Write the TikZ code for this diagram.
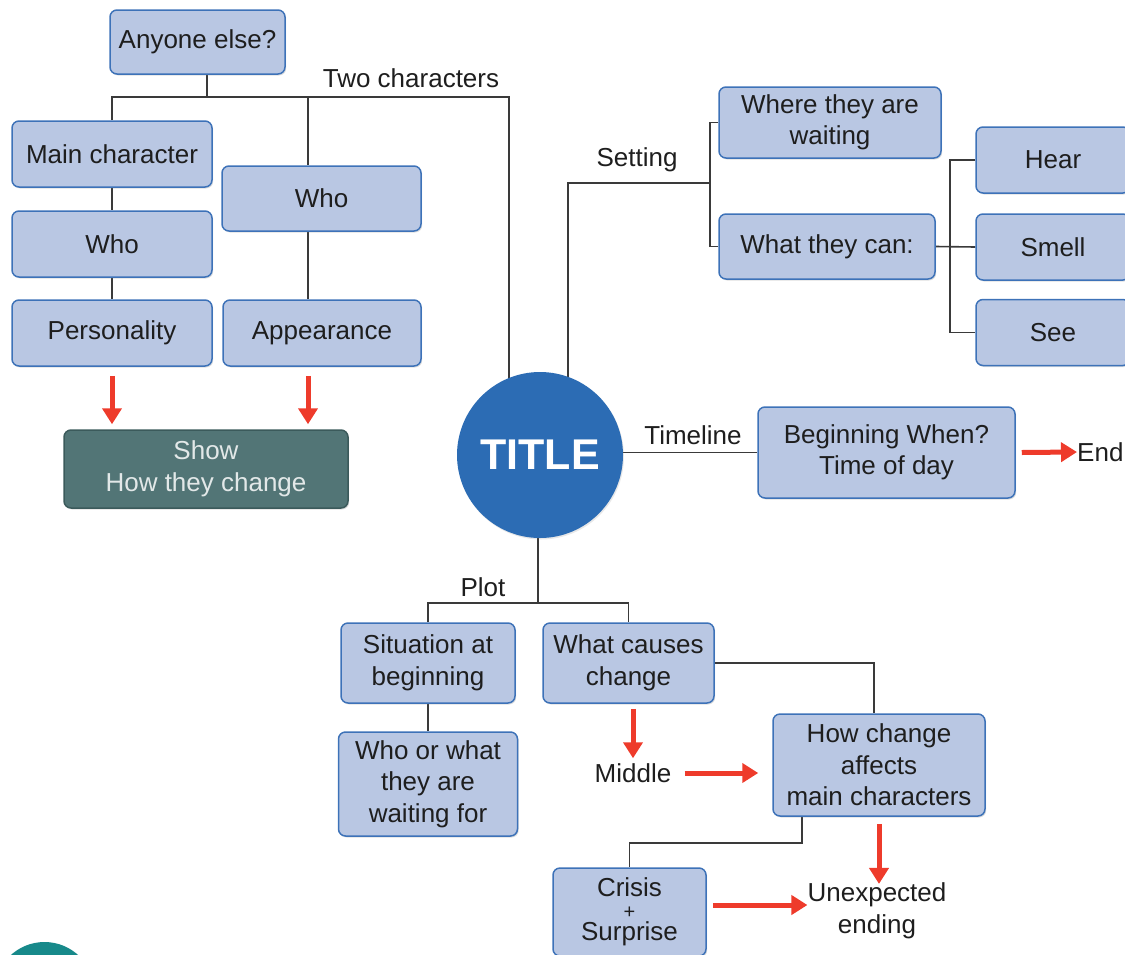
\documentclass[tikz,border=0pt]{standalone}
\usepackage{fontspec}
\setmainfont{Liberation Sans}
\usetikzlibrary{arrows.meta,calc,backgrounds,shadows}
\definecolor{boxfill}{HTML}{B9C7E3}
\definecolor{boxline}{HTML}{3D72B8}
\definecolor{txt}{HTML}{1E1E1E}
\definecolor{showfill}{HTML}{527576}
\definecolor{showline}{HTML}{3B5A5B}
\definecolor{showtxt}{HTML}{E2E8E8}
\definecolor{titleblue}{HTML}{2C6CB4}
\definecolor{arrowred}{HTML}{EE3B2B}
\definecolor{tealdot}{HTML}{17898A}
\definecolor{linegray}{HTML}{3A3A3A}
\newcommand\fsz{\fontsize{26}{31.5}\selectfont}
\begin{document}
\begin{tikzpicture}[x=1pt,y=-1pt,
  box/.style={draw=boxline, fill=boxfill, line width=1.5pt, rounded corners=7pt,
    align=center, text=txt, font=\fsz, inner sep=0pt,
    drop shadow={opacity=0.25, shadow xshift=1.2pt, shadow yshift=-1.5pt}},
  showbox/.style={box, draw=showline, fill=showfill, text=showtxt},
  lbl/.style={font=\fsz, text=txt, inner sep=0pt, align=center},
  conn/.style={draw=linegray, line width=1.6pt},
  redarr/.style={draw=arrowred, line width=5pt, -{Triangle[width=19pt,length=16pt]}}]
\clip (0,0) rectangle (1125,954);
\fill[tealdot] (44.5,992) circle (50pt);

% nodes
\node[box, minimum width=175pt, minimum height=64pt] (anyone) at (197.5,42) {Anyone else?};
\node[box, minimum width=200pt, minimum height=66pt] (mainc) at (112,154) {Main character};
\node[box, minimum width=200pt, minimum height=66pt] (who1) at (112,244) {Who};
\node[box, minimum width=200pt, minimum height=66pt] (pers) at (112,333) {Personality};
\node[box, minimum width=199pt, minimum height=65pt] (who2) at (321.5,198.5) {Who};
\node[box, minimum width=198pt, minimum height=66pt] (appear) at (322,333) {Appearance};
\node[showbox, minimum width=284pt, minimum height=78pt] (show) at (206,469) {Show\\How they change};
\node[circle, fill=titleblue, minimum size=166pt, inner sep=0pt, text=white,
  font=\fontsize{43}{43}\selectfont\bfseries,
  drop shadow={opacity=0.18, shadow xshift=1pt, shadow yshift=-1.5pt}] (title) at (540,455) {TITLE};
\node[box, minimum width=222pt, minimum height=71pt] (where) at (830,122.5) {Where they are\\waiting};
\node[box, minimum width=216pt, minimum height=65pt] (whatcan) at (827,246.5) {What they can:};
\node[box, minimum width=154pt, minimum height=66pt] (hear) at (1053,160) {Hear};
\node[box, minimum width=154pt, minimum height=66pt] (smell) at (1053,247) {Smell};
\node[box, minimum width=154pt, minimum height=66pt] (see) at (1053,332.5) {See};
\node[box, minimum width=257pt, minimum height=91pt] (begin) at (886.5,452.5) {Beginning When?\\Time of day};
\node[lbl, anchor=west] (endl) at (1077,452) {End};
\node[box, minimum width=174pt, minimum height=80pt] (situation) at (428,663) {Situation at\\beginning};
\node[box, minimum width=179pt, minimum height=104pt] (whowhat) at (428,784) {Who or what\\they are\\waiting for};
\node[box, minimum width=171pt, minimum height=80pt] (causes) at (628.5,663) {What causes\\change};
\node[box, minimum width=212pt, minimum height=102pt] (howchange) at (879,765) {How change\\affects\\main characters};
\node[box, minimum width=153pt, minimum height=88pt] (crisis) at (629.5,912) {Crisis\\[-10pt]{\fontsize{20}{20}\selectfont +}\\[-9pt]Surprise};
\node[lbl] (middle) at (633,773) {Middle};
\node[lbl] (unexp) at (877,911) {Unexpected\\ending};
\node[lbl] (twoc) at (411,78) {Two characters};
\node[lbl] (settinglbl) at (637,160) {Setting};
\node[lbl] (timelinelbl) at (693,435) {Timeline};
\node[lbl] (plotlbl) at (483,587) {Plot};

% connectors
\begin{scope}[on background layer]
\coordinate (j1) at (207,97);
\coordinate (tc) at (509,97);
\coordinate (c2) at (308,97);
\draw[conn] (j1 |- anyone.south) -- (j1);
\draw[conn] (mainc.north) |- (tc) -- (tc |- title.center);
\draw[conn] (c2) -- (c2 |- who2.north);
\draw[conn] (c2 |- who2.south) -- (c2 |- appear.north);
\draw[conn] (mainc.south) -- (who1.north);
\draw[conn] (who1.south) -- (pers.north);
\coordinate (s1) at (568,183);
\coordinate (s2) at (710,183);
\draw[conn] (s1 |- title.center) -- (s1) -- (s2);
\draw[conn] (where.west) -| (s2) |- (whatcan.west);
\coordinate (k) at (950,247);
\draw[conn] (whatcan.east) -- (smell.west);
\draw[conn] (hear.west) -| (k) |- (see.west);
\draw[conn] (title.center |- begin.west) -- (begin.west);
\coordinate (p) at (538,603);
\draw[conn] (p |- title.center) -- (p);
\draw[conn] (situation.north) |- (p) -| (causes.north);
\draw[conn] (situation.south) -- (whowhat.north);
\draw[conn] (causes.east) -| ($(howchange.north)+(-5,0)$);
\coordinate (h1) at (802,843);
\draw[conn] (h1 |- howchange.south) -- (h1) -| (crisis.north);
\end{scope}

% red arrows
\draw[redarr] ($(pers.south)+(0,9)$) -- ($(pers.south |- show.north)+(0,-5)$);
\draw[redarr] ($(c2 |- appear.south)+(0,9)$) -- ($(c2 |- show.north)+(0,-5)$);
\draw[redarr] ($(begin.east)+(6,0)$) -- (endl.west);
\draw[redarr] ($(middle.north |- causes.south)+(0,5)$) -- ($(middle.north)+(0,-5)$);
\draw[redarr] ($(middle.east)+(13,0)$) -- ($(middle.east -| howchange.west)+(-14,0)$);
\draw[redarr] ($(howchange.south)+(0,7)$) -- ($(howchange.south |- unexp.north)+(0,1)$);
\draw[redarr] ($(crisis.east)+(6,-7)$) -- ($(crisis.east -| unexp.west)+(0,-7)$);
\end{tikzpicture}
\end{document}
